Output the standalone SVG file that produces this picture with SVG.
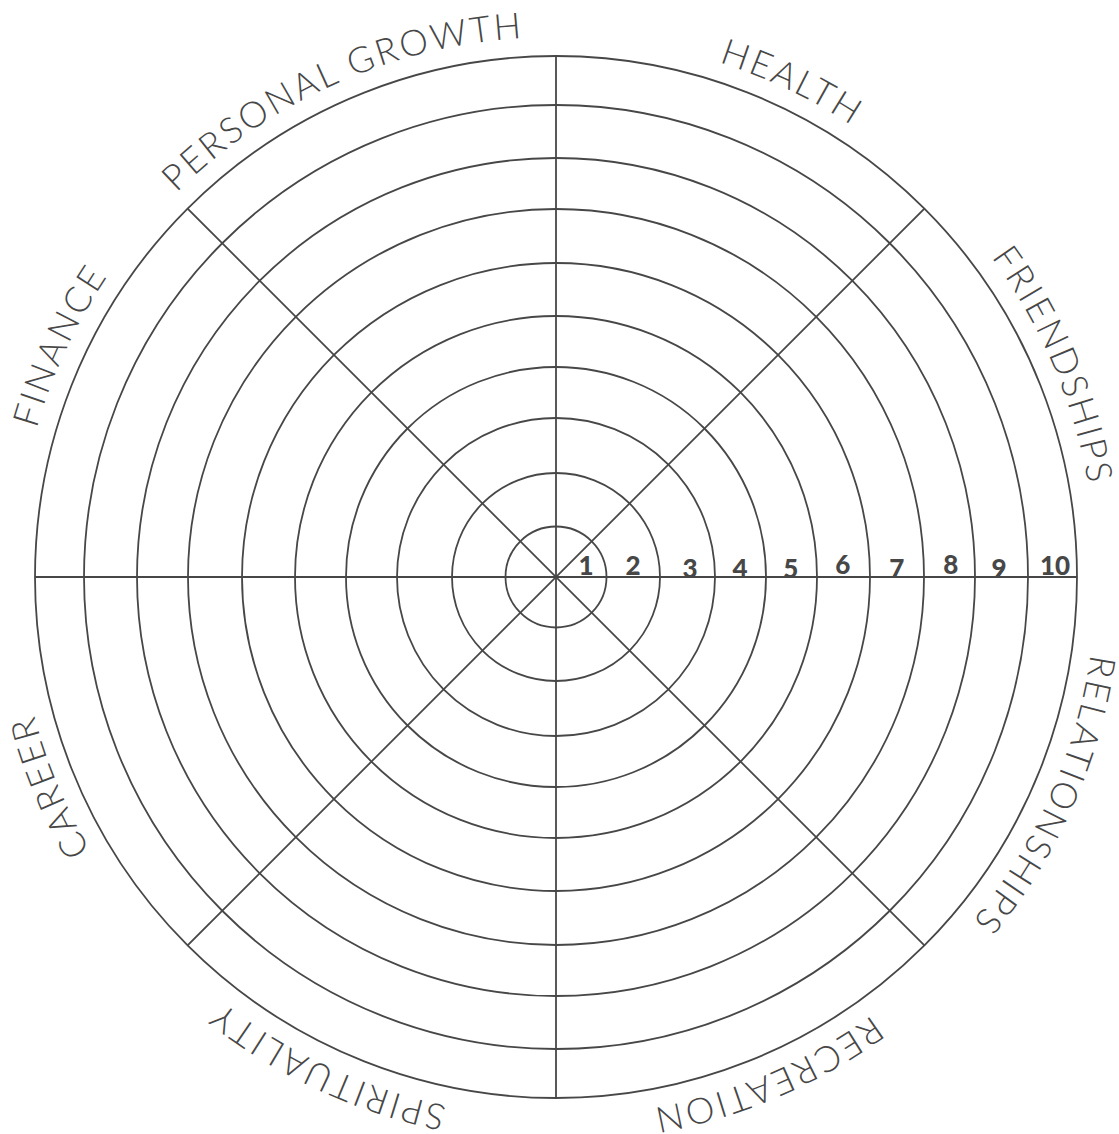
<svg xmlns="http://www.w3.org/2000/svg" width="1119" height="1134" viewBox="0 0 1119 1134">
  <style>
    .ring { fill: none; stroke: #474747; stroke-width: 1.8; }
    .spoke { stroke: #474747; stroke-width: 1.8; }
    .label { font-family: "Lato", "Open Sans", "Liberation Sans", sans-serif; font-weight: 300; font-size: 36px; letter-spacing: 2.6px; fill: #474747; }
    .num { font-family: "Lato", "Open Sans", "Liberation Sans", sans-serif; font-weight: 900; font-size: 26px; fill: #474747; text-anchor: middle; }
  </style>
  <defs>
    <path id="arcPG" d="M 32.04 707.6 A 540 540 0 0 1 1003.7 275.0"/>
    <path id="arcHE" d="M 116.4 263.4 A 540 540 0 0 1 1076.3 721.3"/>
    <path id="arcFR" d="M 434.5 50.8 A 540 540 0 0 1 850.1 1029.9"/>
    <path id="arcRE" d="M 858.0 129.3 A 540 540 0 0 1 425.4 1101.0"/>
    <path id="arcRC" d="M 1082.2 455.5 A 540 540 0 0 1 103.1 871.1"/>
    <path id="arcSP" d="M 998.4 886.7 A 540 540 0 0 1 34.4 437.2"/>
    <path id="arcCA" d="M 672.9 1104.2 A 540 540 0 0 1 265.9 121.6"/>
    <path id="arcFI" d="M 246.3 1019.4 A 540 540 0 0 1 695.8 55.4"/>
  </defs>
  <rect width="1119" height="1134" fill="#ffffff"/>
  <g id="wheel">
    <circle class="ring" cx="556" cy="577" r="50.5"/>
    <circle class="ring" cx="556" cy="577" r="104"/>
    <circle class="ring" cx="556" cy="577" r="159"/>
    <circle class="ring" cx="556" cy="577" r="210"/>
    <circle class="ring" cx="556" cy="577" r="261"/>
    <circle class="ring" cx="556" cy="577" r="314"/>
    <circle class="ring" cx="556" cy="577" r="368"/>
    <circle class="ring" cx="556" cy="577" r="419"/>
    <circle class="ring" cx="556" cy="577" r="472"/>
    <circle class="ring" cx="556" cy="577" r="521"/>
  </g>
  <g id="spokes">
    <line class="spoke" x1="35" y1="577" x2="1077" y2="577"/>
    <line class="spoke" x1="556" y1="56" x2="556" y2="1098"/>
    <line class="spoke" x1="187.6" y1="208.6" x2="924.4" y2="945.4"/>
    <line class="spoke" x1="924.4" y1="208.6" x2="187.6" y2="945.4"/>
  </g>
  <g id="scale">
    <text class="num" x="586" y="575.3">1</text>
    <text class="num" x="633" y="575.3">2</text>
    <text class="num" x="690" y="578.3">3</text>
    <text class="num" x="740" y="578.3">4</text>
    <text class="num" x="790.7" y="578.3">5</text>
    <text class="num" x="842.7" y="573.8">6</text>
    <text class="num" x="896.7" y="578.3">7</text>
    <text class="num" x="950.7" y="573.8">8</text>
    <text class="num" x="999" y="578.3">9</text>
    <text class="num" x="1055" y="575.3">10</text>
  </g>
  <g id="label-personal-growth"><text class="label"><textPath href="#arcPG" startOffset="50%" text-anchor="middle">PERSONAL GROWTH</textPath></text></g>
  <g id="label-health"><text class="label"><textPath href="#arcHE" startOffset="50%" text-anchor="middle">HEALTH</textPath></text></g>
  <g id="label-friendships"><text class="label"><textPath href="#arcFR" startOffset="50%" text-anchor="middle">FRIENDSHIPS</textPath></text></g>
  <g id="label-relationships"><text class="label"><textPath href="#arcRE" startOffset="50%" text-anchor="middle">RELATIONSHIPS</textPath></text></g>
  <g id="label-recreation"><text class="label"><textPath href="#arcRC" startOffset="50%" text-anchor="middle">RECREATION</textPath></text></g>
  <g id="label-spirituality"><text class="label"><textPath href="#arcSP" startOffset="50%" text-anchor="middle">SPIRITUALITY</textPath></text></g>
  <g id="label-career"><text class="label"><textPath href="#arcCA" startOffset="50%" text-anchor="middle">CAREER</textPath></text></g>
  <g id="label-finance"><text class="label"><textPath href="#arcFI" startOffset="50%" text-anchor="middle">FINANCE</textPath></text></g>
</svg>
